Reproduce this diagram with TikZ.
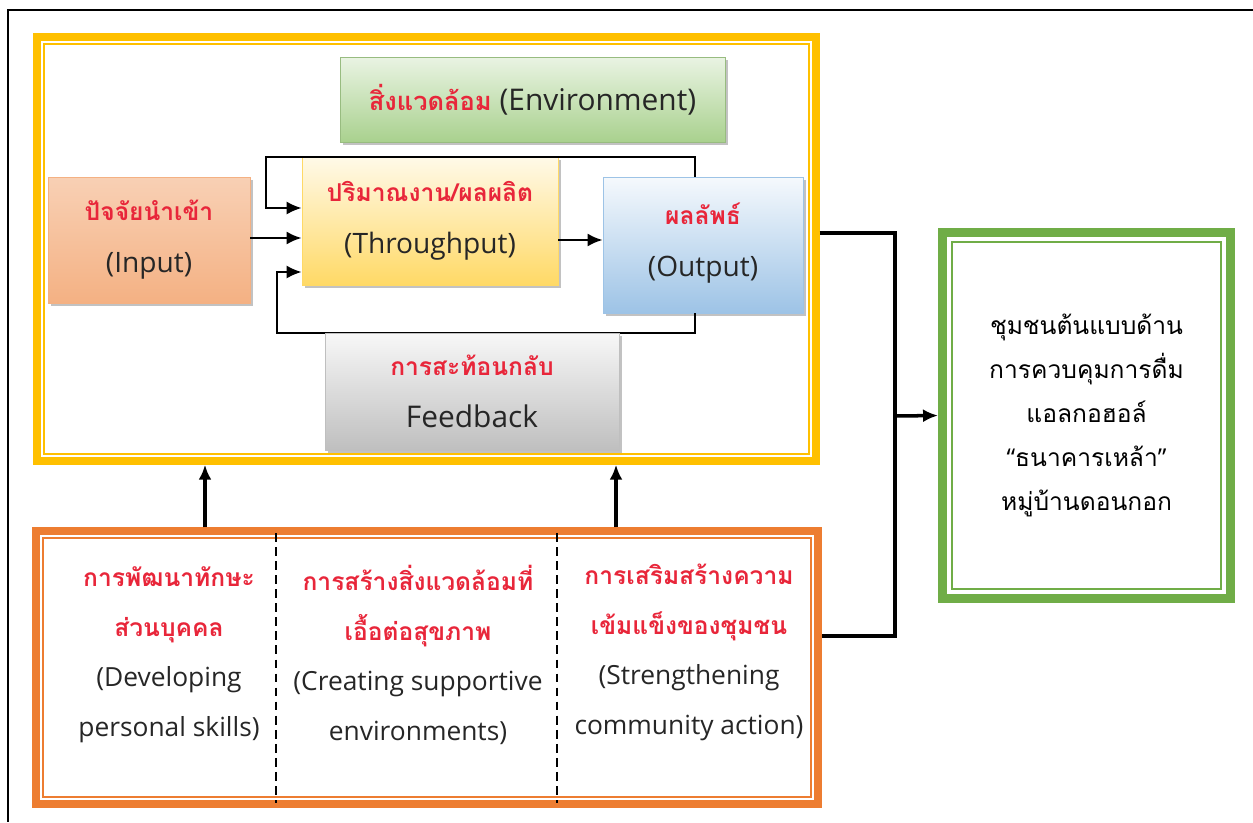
\documentclass[tikz,border=0pt]{standalone}
\usepackage{fontspec}
\setmainfont{Open Sans}
\newfontfamily\thai[Script=Thai]{Loma}
\usetikzlibrary{arrows.meta,shadows}

\definecolor{thred}{HTML}{E8263A}
\definecolor{txt}{HTML}{262626}
\definecolor{frYel}{HTML}{FFC000}
\definecolor{frOra}{HTML}{ED7D31}
\definecolor{frGrn}{HTML}{70AD47}
\definecolor{inC}{HTML}{F4B183}
\definecolor{thC}{HTML}{FFD966}
\definecolor{outC}{HTML}{9DC3E6}
\definecolor{envC}{HTML}{A9D18E}
\definecolor{fbC}{HTML}{BFBFBF}

\newcommand\rt[1]{{\color{thred}\thai\bfseries\fontsize{14}{29.5}\selectfont #1}}

\tikzset{
  box/.style={inner sep=0pt, align=center, text=txt, font=\fontsize{16}{29.5}\selectfont,
    drop shadow={shadow xshift=1.7pt, shadow yshift=-1.7pt, fill=black!40, opacity=.6}},
  frame/.style={draw, inner sep=0pt, line width=0.15cm},
  lbl/.style={align=center, text=txt, font=\fontsize{15}{28.5}\selectfont},
  conn/.style={line width=2pt},
}

\begin{document}
\begin{tikzpicture}[x=0.02cm,y=-0.02cm,>={Latex[length=0.3cm,width=0.26cm]}]
	\useasboundingbox (0,0) rectangle (1253,822);
	\draw[line width=0.05cm] (1253,10) -| (8,822);

	\node[frame, draw=frYel, minimum width=15.58cm, minimum height=8.48cm] (sys) at (426.5,249) {};
	\node[frame, draw=frOra, minimum width=15.64cm, minimum height=5.46cm] (ofr) at (427,667.5) {};
	\node[frame, draw=frGrn, line width=0.18cm, minimum width=5.76cm, minimum height=7.32cm,
		font=\fontsize{14}{25}\selectfont\thai, align=center] (goal) at (1086.5,415.5)
		{ชุมชนต้นแบบด้าน\\การควบคุมการดื่ม\\แอลกอฮอล์\\{\rmfamily“}ธนาคารเหล้า{\rmfamily”}\\หมู่บ้านดอนกอก};
	\foreach \n/\c/\d in {sys/frYel/0.21cm, ofr/frOra/0.22cm, goal/frGrn/0.28cm}
		\draw[\c, line width=0.045cm] ([shift={(\d,-\d)}]\n.north west) rectangle ([shift={(-\d,\d)}]\n.south east);

	\node[box, draw=envC!90!black, top color=envC!25, bottom color=envC, minimum width=7.7cm, minimum height=1.7cm,
		font=\fontsize{17}{29.5}\selectfont] (env) at (532.5,99.5) {{\color{thred}\thai\bfseries\fontsize{14.5}{29.5}\selectfont สิ่งแวดล้อม} (Environment)};
	\node[box, draw=inC, top color=inC!60, middle color=inC!6, bottom color=inC, minimum width=4.04cm, minimum height=2.52cm] (inp) at (149,240) {\rt{ปัจจัยนำเข้า}\\(Input)};
	\node[box, draw=thC, top color=thC!15, bottom color=thC, minimum width=5.12cm, minimum height=2.56cm] (thru) at (430,221) {\rt{ปริมาณงาน/ผลผลิต}\\(Throughput)};
	\node[box, draw=outC, top color=outC!10, bottom color=outC, minimum width=4cm, minimum height=2.72cm] (outp) at (703,245) {\rt{ผลลัพธ์}\\(Output)\\[-23pt]};

	\draw[->, line width=1.4pt] (inp.east |- 0,238) -- (thru.west |- 0,238);
	\draw[->, line width=1.4pt] (thru.east |- 0,240) -- (outp.west |- 0,240);
	\draw[->, line width=1.2pt] (outp.north -| 695,0) |- (266,157) |- (thru.west |- 0,208);
	\draw[->, line width=1.2pt] (outp.south -| 695,0) |- (277,333) |- (thru.west |- 0,272);

	\node[box, draw=fbC, top color=fbC!12, bottom color=fbC, minimum width=5.88cm, minimum height=2.34cm] (fb) at (472,391.5) {\rt{การสะท้อนกลับ}\\{\fontsize{17}{29.5}\selectfont Feedback}};

	\node[lbl] (c1) at (169,655) {\rt{การพัฒนาทักษะ}\\\rt{ส่วนบุคคล}\\(Developing\\personal skills)};
	\node[lbl] (c2) at (418,655) {\rt{การสร้างสิ่งแวดล้อมที่}\\\rt{เอื้อต่อสุขภาพ}\\(Creating supportive\\environments)};
	\node[lbl] (c3) at (689,652) {\rt{การเสริมสร้างความ}\\\rt{เข้มแข็งของชุมชน}\\(Strengthening\\community action)};
	\draw[line width=1.6pt, dash pattern=on 5pt off 3pt] (276,533) -- (276,803);
	\draw[line width=1.6pt, dash pattern=on 5pt off 3pt] (557,533) -- (557,803);

	\draw[->, conn] (ofr.north -| 205,0) -- (sys.south -| 205,0);
	\draw[->, conn] (ofr.north -| 616,0) -- (sys.south -| 616,0);

	\coordinate (jn) at (895,416);
	\draw[conn] (sys.east |- 0,233) -| (jn) |- (ofr.east |- 0,636);
	\draw[->, conn] (jn) -- (goal.west);
\end{tikzpicture}
\end{document}
